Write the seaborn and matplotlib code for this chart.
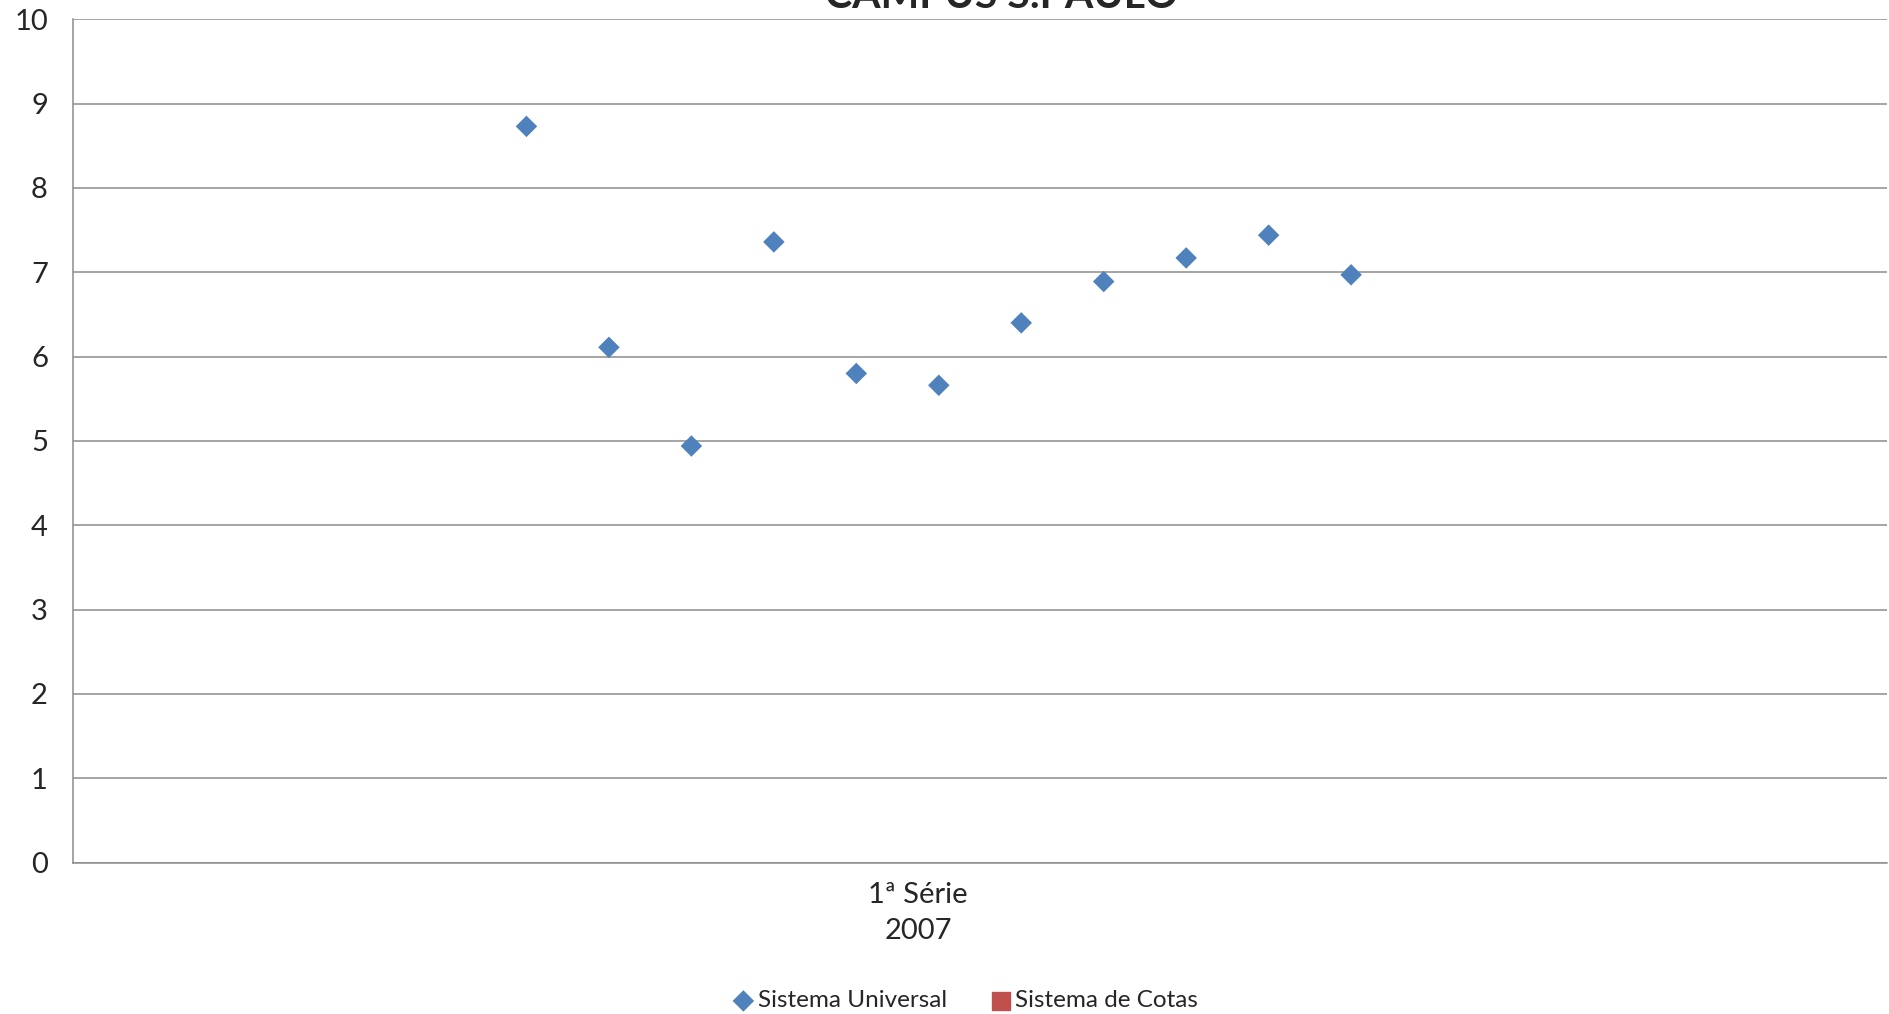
import matplotlib
matplotlib.use("Agg")
import matplotlib.pyplot as plt
import seaborn as sns
import pandas as pd

# notas por curso, campus S.Paulo, 1a serie 2007
posicao = [1, 2, 3, 4, 5, 6, 7, 8, 9, 10, 11]
universal = [8.73, 6.11, 4.94, 7.36, 5.80, 5.66, 6.40, 6.89, 7.17, 7.44, 6.97]
cotas = []
rotulo_x = ["1ª Série\n2007"]
pos_rotulo = [5.75]

sns.set_theme(style="white")
plt.rcParams["font.family"] = ["Lato", "DejaVu Sans"]

df = pd.DataFrame({"x": posicao, "nota": universal})

fig = plt.figure(figsize=(18.89, 10.14), dpi=100)
ax = fig.add_axes([0.0386, 0.1493, 0.9604, 0.8317])

sns.scatterplot(data=df, x="x", y="nota", ax=ax, marker="D", s=120,
                color="#4F81BD", edgecolor="none", label="Sistema Universal")
ax.scatter(cotas, cotas, marker="s", s=150, color="#C0504D", label="Sistema de Cotas")

ax.set_xlim(-4.5, 17.5)
ax.set_ylim(0, 10)
ax.set_yticks(range(0, 11))
ax.set_xticks(pos_rotulo)
ax.set_xticklabels(rotulo_x, fontsize=21, linespacing=1.45)
ax.tick_params(axis="y", labelsize=21, length=9, width=1, color="#888888", direction="out", pad=9)
ax.tick_params(axis="x", length=0, pad=14)
ax.yaxis.grid(True, color="#8c8c8c", linewidth=1.1)
ax.set_axisbelow(True)
ax.set_xlabel("")
ax.set_ylabel("")

for lado in ["top", "right"]:
    ax.spines[lado].set_visible(False)
for lado in ["left", "bottom"]:
    ax.spines[lado].set_color("#8c8c8c")
    ax.spines[lado].set_linewidth(1.1)

ax.legend(loc="center", bbox_to_anchor=(0.510, 0.013), bbox_transform=fig.transFigure,
          ncol=2, frameon=False, fontsize=17.5, handletextpad=0.0, columnspacing=1.6,
          handlelength=1.2, markerscale=1.0)

fig.text(0.530, 0.992, "CAMPUS S.PAULO", ha="center", va="baseline",
         fontsize=29.5, fontweight="bold")

fig.savefig("out.png", dpi=100)
